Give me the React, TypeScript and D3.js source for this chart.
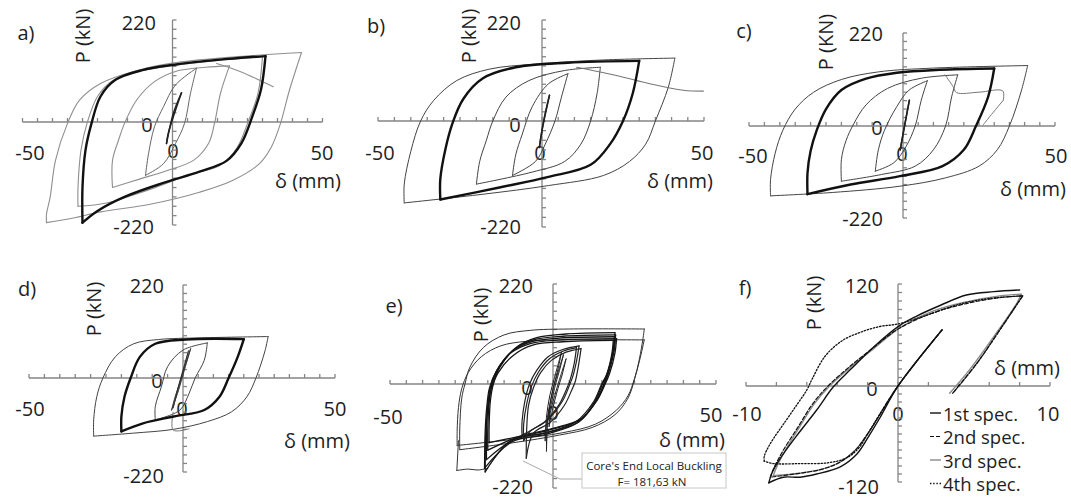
import React from 'react';
import * as d3 from 'd3';

type Pt = [number, number];

// a) hysteresis loops, delta (mm) vs P (kN)
const aOuter: Pt[] = [[43,150],[39,69],[36,-3],[33,-53],[29,-89],[20,-125],[9,-150],[-7,-175],[-24,-192],[-33,-205],[-42,-215],[-42,-197],[-40.8,-161],[-39,-82],[-35,-3],[-31,47],[-24,83],[-13,109],[0,127],[20,140],[43,150]];
const aGray: Pt[] = [[30,141],[28.5,62],[25,-3],[21.5,-55],[16,-92],[5,-114],[-8,-145],[-22,-173],[-31.5,-180],[-31.5,-140],[-30.5,-60],[-28.5,-3],[-25,55],[-20,89],[-10,111],[0,122],[15,133],[30,141]];
const aThick: Pt[] = [[31,142],[29.5,70],[26.5,10],[23,-45],[18,-83],[9,-106],[-3,-130],[-16,-160],[-25,-190],[-30,-215],[-30,-139],[-29,-60],[-27,-3],[-24,55],[-19,91],[-10,112],[0,123],[15,134],[31,142]];
const aMid: Pt[] = [[19,121],[16,62],[14,-3],[12,-46],[7,-82],[-2,-104],[-11,-122],[-20,-140],[-20,-82],[-18,-39],[-16,-3],[-12,47],[-6,87],[1,109],[11,118],[19,121]];
const aSmall: Pt[] = [[8,116],[6,62],[4,-3],[1,-46],[-3,-89],[-9,-114],[-8,-68],[-6,-10],[-3,33],[1,80],[8,116]];
const aTiny: Pt[] = [[3,63],[0.3,19],[-2,-46],[-1.4,-24],[3,63]];
const aDrop: Pt[] = [[14.7,126],[22.5,109],[33.6,76]];

// b)
const bOuter: Pt[] = [[41,137],[39,74],[35,0],[32,-48],[27,-84],[19,-113],[2,-134],[-18,-152],[-42,-170],[-42,-131],[-40,-63],[-37,0],[-33,45],[-26,88],[-16,113],[-2,124],[19,133],[41,137]];
const bThick: Pt[] = [[30,131],[28,60],[25,0],[21,-48],[15,-91],[2,-116],[-13,-138],[-31,-163],[-31,-120],[-29.5,-60],[-27.3,-5],[-24,48],[-18,93],[-8,117],[8,127],[30,131]];
const bMid: Pt[] = [[18,117],[17,60],[15,0],[12,-48],[7,-84],[-3,-106],[-20,-131],[-19,-84],[-17,-41],[-15,0],[-11,52],[-4,88],[7,110],[18,117]];
const bSmall: Pt[] = [[8,103],[6,52],[4,0],[1,-48],[-2,-84],[-9,-113],[-8,-70],[-6,-27],[-3,31],[2,81],[8,103]];
const bTiny: Pt[] = [[2.3,56],[0.5,0],[-0.8,-55],[0,-20],[2.3,56]];
const bDrop: Pt[] = [[10.7,117],[23,99],[33.3,81],[43.6,67],[49.8,65]];

// c)
const cOuter: Pt[] = [[41,143],[39,85],[35,0],[31,-57],[25,-96],[14,-124],[-1,-144],[-23,-159],[-43,-167],[-43,-128],[-41.5,-65],[-39,-10],[-35,40],[-29,80],[-20,110],[-8,128],[10,137],[41,143]];
const cThick: Pt[] = [[30,136],[28,69],[24,0],[20,-57],[13,-96],[-1,-120],[-17,-140],[-31,-163],[-31,-112],[-30,-60],[-28,-10],[-25,40],[-20,85],[-12,112],[-2,126],[12,133],[30,136]];
const cMid: Pt[] = [[18,121],[16,69],[14,0],[10,-57],[4,-96],[-7,-116],[-20,-132],[-20,-80],[-18.5,-35],[-16,5],[-12,50],[-5,89],[6,113],[18,121]];
const cSmall: Pt[] = [[8,107],[6,61],[4,0],[1,-49],[-3,-88],[-9,-108],[-8,-57],[-6,-10],[-2,46],[2,85],[8,107]];
const cTiny: Pt[] = [[2.1,61],[0.5,0],[-0.9,-57],[0,-20],[2.1,61]];
const cDrop: Pt[] = [[13.8,121],[16.5,93],[17.6,79],[25,80],[32.8,83],[33,61],[28.5,22],[26.3,2]];

// d)
const dOuter: Pt[] = [[28,98],[27,65],[24,0],[21,-44],[16,-79],[8,-102],[-3,-120],[-16,-129],[-29,-136],[-29,-98],[-28,-44],[-26,0],[-22,50],[-16,81],[-8,91],[6,95],[28,98]];
const dThick: Pt[] = [[20,92],[18,50],[15,0],[12,-44],[7,-75],[-3,-90],[-13,-106],[-20,-125],[-20,-90],[-19,-44],[-17,0],[-14,50],[-9,81],[1,91],[20,92]];
const dMid: Pt[] = [[8,83],[7,42],[4,0],[2,-36],[-1,-75],[-9,-98],[-9,-67],[-7,-20],[-5,27],[0,66],[8,83]];
const dTiny: Pt[] = [[2.5,69],[0.5,20],[-1.5,-30],[-3.7,-75],[-2.8,-50],[-0.8,-5],[1.2,40],[2.5,69]];
const dTiny2: Pt[] = [[1.8,64],[-0.2,10],[-2.5,-50],[-3.2,-70],[-1.5,-20],[1.8,64]];
const dStep: Pt[] = [[-3.2,-80],[-3.2,-122],[2,-119]];

// e)
const eOuter1: Pt[] = [[28,121],[27.6,100],[26.5,55],[25,10],[23,-30],[19,-65],[12,-92],[2,-108],[-12,-124],[-28.6,-139],[-28.6,-95],[-28,-30],[-27,0],[-25.5,37],[-21.4,80],[-15,108],[-7,118],[5,121],[28,121]];
const eOuter2: Pt[] = [[28,97],[26.5,50],[25,12],[23,-25],[19.5,-55],[13,-85],[3,-103],[-12,-117],[-29.4,-130],[-29.4,-100],[-29,-50],[-28,-10],[-26,25],[-22,60],[-16,84],[-8,94],[5,97],[28,97]];
const eCollapse: Pt[] = [[-29,-120],[-29.5,-183],[-26,-180],[-23,-182],[-20,-178]];
const e2a: Pt[] = [[19,113],[18.7,80],[17,30],[15.6,0],[13.5,-32],[8.5,-75],[-1,-97],[-11,-112],[-19.6,-124],[-19.6,-90],[-19.2,-35],[-18.3,0],[-16.3,37],[-11.2,81],[-5,102],[4,110],[19,113]];
const e2b: Pt[] = [[19.2,108],[18.8,75],[17.2,28],[15.8,0],[13.8,-30],[9,-72],[0,-94],[-10,-110],[-20,-140],[-20,-95],[-19.6,-40],[-18.8,-3],[-16.8,33],[-12,76],[-6,97],[3,105],[19.2,108]];
const e2c: Pt[] = [[18.8,104],[18.4,72],[16.8,26],[15.2,0],[13,-35],[8,-80],[-1.5,-102],[-12,-118],[-20.4,-160],[-20.4,-98],[-20,-45],[-19.2,-6],[-17.2,30],[-12.5,72],[-6.5,93],[2,101],[18.8,104]];
const e2d: Pt[] = [[19.5,100],[19,68],[17.3,22],[15.8,-3],[13.2,-38],[7.5,-82],[-2,-106],[-12.5,-122],[-21,-178],[-20.8,-100],[-20.3,-48],[-19.5,-9],[-17.5,27],[-13,68],[-7,89],[2,97],[19.5,100]];
const e2e: Pt[] = [[18.5,96],[18,64],[16.4,20],[14.8,-2],[12.6,-36],[7,-80],[-2.5,-104],[-13,-120],[-20.8,-186],[-20.6,-104],[-20,-52],[-19,-12],[-16.8,25],[-12,64],[-6,86],[3,93],[18.5,96]];
const e3a: Pt[] = [[8,84],[7.2,50],[6,15],[5.2,0],[3,-35],[-1.5,-75],[-6,-95],[-9.5,-108],[-9.5,-80],[-8.6,-35],[-7.2,0],[-5,30],[-1.5,60],[3,76],[8,84]];
const e3b: Pt[] = [[7.2,80],[6.5,45],[5.2,8],[4.2,-10],[2,-42],[-2.5,-80],[-7,-100],[-9,-120],[-9,-85],[-8,-40],[-6.6,-5],[-4.4,27],[-1,56],[3,72],[7.2,80]];
const e3c: Pt[] = [[8.6,78],[7.8,40],[6.8,5],[5.8,-12],[3.5,-45],[-1,-82],[-6,-104],[-8.2,-157],[-8.1,-100],[-7.5,-45],[-6,-8],[-3.8,25],[-0.5,52],[4,70],[8.6,78]];
const e4a: Pt[] = [[3.2,64],[2,30],[0.8,0],[-0.5,-40],[-1.6,-80],[-2,-142],[-1.8,-85],[-1,-45],[0,-10],[1.5,25],[3.2,64]];
const e4b: Pt[] = [[2.6,70],[1.6,35],[0.4,0],[-1,-45],[-2.2,-95],[-2.4,-120],[-2,-70],[-1,-25],[0.5,15],[2.6,70]];
const e4c: Pt[] = [[4,55],[2.8,20],[1.5,-10],[0,-50],[-1.2,-90],[-0.8,-60],[0.5,-25],[2,10],[4,55]];

// f) single cycle, four specimens
const spec1: Pt[] = [[2.9,66],[0,0],[-1.2,-40],[-1.9,-62],[-2.7,-85],[-3.8,-101],[-5.35,-110],[-6.45,-114],[-7.55,-114],[-8.5,-121],[-8.3,-109],[-7.8,-92],[-6.7,-63],[-5.35,-30],[-4.25,-1],[-3.15,19],[-1.6,46],[0.1,71],[1.2,82],[2.8,95],[4.5,107],[6.3,111],[8,113]];
const spec2: Pt[] = [[2.9,66],[0,0],[-2,-60],[-2.9,-82],[-4,-97],[-5.2,-105],[-6.8,-110],[-8.4,-114],[-8.2,-104],[-7.6,-82],[-6.6,-52],[-5.6,-22],[-4.6,0],[-3.3,21],[-1.7,44],[0,67],[2.3,86],[4.5,97],[6.7,104],[8.2,106],[6.7,66],[5.2,27],[3.6,-9]];
const spec3: Pt[] = [[2.9,66],[0,0],[-2,-60],[-2.8,-80],[-3.8,-95],[-5,-104],[-6.5,-109],[-8.2,-112],[-8,-102],[-7.4,-80],[-6.5,-52],[-5.5,-22],[-4.5,0],[-3.2,21],[-1.6,44],[0.1,68],[2.3,88],[4.5,99],[6.7,106],[8.1,108],[7.8,97],[6.3,58],[4.7,19],[3.4,-9]];
const spec4: Pt[] = [[2.9,66],[0,0],[-2,-60],[-2.6,-78],[-3.4,-90],[-4.6,-96],[-6.5,-97],[-8.2,-97],[-8.8,-94],[-8.8,-88],[-8.4,-72],[-7.4,-44],[-6.6,-22],[-6,-5],[-5.6,10],[-4.8,35],[-3.7,53],[-2.5,63],[-1.2,70],[0,73],[2,84],[4,96],[6,103],[8.2,106],[6.7,66],[5.2,27],[3.6,-9]];

const dispEnds = ['-50', '0', '50'];
const forceEnds = ['220', '0', '-220'];
const dispEndsF = ['-10', '0', '10'];
const forceEndsF = ['120', '0', '-120'];
const legendNames = ['1st spec.', '2nd spec.', '3rd spec.', '4th spec.'];
const noteLines = ["Core's End Local Buckling", 'F= 181,63 kN'];

const FONT = "'Open Sans', 'Noto Sans', sans-serif";
const AX = '#858585';
const FS = 20;

interface Curve { pts: Pt[]; color: string; w: number; dash?: string }
type XY = [number, number];
interface Layout {
  letter: string; yTitle: string;
  xr: number[]; yr: number[]; xMax: number; xStep: number; yMax: number; yStep: number;
  xl: string[]; yl: string[];
  pLetter: XY; pYTitle: XY; pYTop: XY; pYBot: XY; pYZero: XY; pXZero: XY; pXLeft: XY; pXRight: XY; pXTitle: XY;
}

const thin = '#444';
const grey = '#8f8f8f';

const layouts: { L: Layout; curves: Curve[] }[] = [
  {
    L: { letter: 'a)', yTitle: 'P (kN)', xr: [22.5, 172.5, 322.5], yr: [225, 122, 20], xMax: 50, xStep: 5, yMax: 220, yStep: 20, xl: dispEnds, yl: forceEnds,
      pLetter: [26, 32], pYTitle: [82, 36], pYTop: [156, 22], pYBot: [154, 226], pYZero: [147, 124], pXZero: [173, 150], pXLeft: [30, 152], pXRight: [322, 152], pXTitle: [308, 180] },
    curves: [
      { pts: aOuter, color: grey, w: 1.1 }, { pts: aGray, color: grey, w: 1.1 }, { pts: aMid, color: grey, w: 1.1 },
      { pts: aSmall, color: '#666', w: 1 }, { pts: aDrop, color: grey, w: 1.1 },
      { pts: aThick, color: '#111', w: 2.4 }, { pts: aTiny, color: '#222', w: 1.5 },
    ],
  },
  {
    L: { letter: 'b)', yTitle: 'P (kN)', xr: [378, 542, 704], yr: [227, 121, 20], xMax: 50, xStep: 5, yMax: 220, yStep: 20, xl: dispEnds, yl: forceEnds,
      pLetter: [376, 25], pYTitle: [468, 36], pYTop: [521, 22], pYBot: [521, 226], pYZero: [515, 124], pXZero: [540, 152], pXLeft: [380, 152], pXRight: [702, 152], pXTitle: [680, 180] },
    curves: [
      { pts: bOuter, color: thin, w: 1 }, { pts: bMid, color: thin, w: 1 }, { pts: bSmall, color: thin, w: 1 },
      { pts: bDrop, color: '#777', w: 1.1 }, { pts: bThick, color: '#111', w: 2.4 }, { pts: bTiny, color: '#222', w: 1.5 },
    ],
  },
  {
    L: { letter: 'c)', yTitle: 'P (KN)', xr: [749, 903, 1055], yr: [218, 126, 33], xMax: 50, xStep: 5, yMax: 220, yStep: 20, xl: dispEnds, yl: forceEnds,
      pLetter: [744, 30], pYTitle: [825, 42], pYTop: [883, 33], pYBot: [883, 218], pYZero: [877, 127], pXZero: [902, 153], pXLeft: [753, 155], pXRight: [1056, 155], pXTitle: [1033, 188] },
    curves: [
      { pts: cOuter, color: thin, w: 1 }, { pts: cMid, color: thin, w: 1 }, { pts: cSmall, color: thin, w: 1 },
      { pts: cDrop, color: '#777', w: 1 }, { pts: cThick, color: '#111', w: 2.4 }, { pts: cTiny, color: '#222', w: 1.5 },
    ],
  },
  {
    L: { letter: 'd)', yTitle: 'P (kN)', xr: [29, 183, 335], yr: [472, 378, 285], xMax: 50, xStep: 5, yMax: 220, yStep: 20, xl: dispEnds, yl: forceEnds,
      pLetter: [27, 288], pYTitle: [93, 309], pYTop: [164, 285], pYBot: [164, 475], pYZero: [157, 380], pXZero: [182, 408], pXLeft: [30, 408], pXRight: [335, 408], pXTitle: [317, 440] },
    curves: [
      { pts: dOuter, color: thin, w: 1 }, { pts: dMid, color: thin, w: 1 }, { pts: dStep, color: '#777', w: 1 },
      { pts: dThick, color: '#111', w: 2.4 }, { pts: dTiny, color: '#333', w: 1 }, { pts: dTiny2, color: '#333', w: 1 },
    ],
  },
  {
    L: { letter: 'e)', yTitle: 'P (kN)', xr: [390, 553, 716], yr: [488, 384, 284], xMax: 50, xStep: 5, yMax: 220, yStep: 20, xl: dispEnds, yl: forceEnds,
      pLetter: [394, 305], pYTitle: [480, 315], pYTop: [533, 285], pYBot: [533, 486], pYZero: [527, 387], pXZero: [553, 412], pXLeft: [388, 416], pXRight: [711, 414], pXTitle: [692, 439] },
    curves: [
      { pts: eOuter1, color: '#333', w: 1 }, { pts: eOuter2, color: '#333', w: 1 }, { pts: eCollapse, color: '#333', w: 1 },
      { pts: e2a, color: '#151515', w: 1.3 }, { pts: e2b, color: '#151515', w: 1.3 }, { pts: e2c, color: '#151515', w: 1.3 },
      { pts: e2d, color: '#151515', w: 1.3 }, { pts: e2e, color: '#151515', w: 1.3 },
      { pts: e3a, color: '#222', w: 1.2 }, { pts: e3b, color: '#222', w: 1.2 }, { pts: e3c, color: '#222', w: 1.2 },
      { pts: e4a, color: '#222', w: 1 }, { pts: e4b, color: '#222', w: 1 }, { pts: e4c, color: '#222', w: 1 },
    ],
  },
  {
    L: { letter: 'f)', yTitle: 'P (kN)', xr: [746, 898, 1050], yr: [482, 386, 284], xMax: 10, xStep: 2, yMax: 120, yStep: 10, xl: dispEndsF, yl: forceEndsF,
      pLetter: [745, 287], pYTitle: [813, 303], pYTop: [879, 285], pYBot: [879, 486], pYZero: [872, 388], pXZero: [898, 413], pXLeft: [747, 413], pXRight: [1048, 413], pXTitle: [1027, 367] },
    curves: [
      { pts: spec3, color: '#8a8a8a', w: 1.4 }, { pts: spec2, color: '#111', w: 1.2, dash: '4,2' },
      { pts: spec4, color: '#111', w: 1.3, dash: '1.4,1.8' }, { pts: spec1, color: '#111', w: 1.4 },
    ],
  },
];

const legendStyle: Curve[] = [
  { pts: spec1, color: '#111', w: 1.4 },
  { pts: spec2, color: '#111', w: 1.2, dash: '4,2' },
  { pts: spec3, color: '#8a8a8a', w: 1.4 },
  { pts: spec4, color: '#111', w: 1.3, dash: '1.4,1.8' },
];

// split a loop at its extreme displacements so the peaks stay sharp
function pieces(pts: Pt[]): Pt[][] {
  let iMin = 0, iMax = 0;
  pts.forEach((p, i) => {
    if (p[0] < pts[iMin][0]) iMin = i;
    if (p[0] > pts[iMax][0]) iMax = i;
  });
  const cuts = Array.from(new Set([0, iMin, iMax, pts.length - 1])).sort((a, b) => a - b);
  const out: Pt[][] = [];
  for (let k = 0; k < cuts.length - 1; k++) out.push(pts.slice(cuts[k], cuts[k + 1] + 1));
  return out.filter(s => s.length > 1);
}

function Txt({ p, t, anchor = 'middle', size = FS }: { p: XY; t: string; anchor?: string; size?: number }) {
  return (
    <text x={p[0]} y={p[1]} textAnchor={anchor as any} dominantBaseline="central" fontSize={size} fill="#1e1e1e" fontFamily={FONT}>{t}</text>
  );
}

function Panel({ L, curves }: { L: Layout; curves: Curve[] }) {
  const x = d3.scaleLinear().domain([-L.xMax, 0, L.xMax]).range(L.xr);
  const y = d3.scaleLinear().domain([-L.yMax, 0, L.yMax]).range(L.yr);
  const line = d3.line<Pt>().x(d => x(d[0])).y(d => y(d[1])).curve(d3.curveCatmullRom.alpha(0.5));
  const xt = d3.range(-L.xMax, L.xMax + 1e-6, L.xStep);
  const yt = d3.range(-L.yMax, L.yMax + 1e-6, L.yStep);
  const x0 = x(0), y0 = y(0);
  return (
    <g>
      <Txt p={L.pLetter} t={L.letter} />
      <text transform={`translate(${L.pYTitle[0]},${L.pYTitle[1]}) rotate(-90)`} textAnchor="middle" dominantBaseline="central" fontSize={FS} fill="#1e1e1e" fontFamily={FONT}>{L.yTitle}</text>
      <Txt p={L.pYTop} t={L.yl[0]} anchor="end" />
      <Txt p={L.pYBot} t={L.yl[2]} anchor="end" />
      <Txt p={L.pYZero} t={L.yl[1]} />
      <Txt p={L.pXZero} t={L.xl[1]} />
      <Txt p={L.pXLeft} t={L.xl[0]} />
      <Txt p={L.pXRight} t={L.xl[2]} />
      <Txt p={L.pXTitle} t="δ (mm)" />
      <g stroke={AX} strokeWidth={1.3} fill="none">
        <line x1={x(-L.xMax)} x2={x(L.xMax)} y1={y0} y2={y0} />
        <line x1={x0} x2={x0} y1={y(-L.yMax)} y2={y(L.yMax)} />
        {xt.map(v => <line key={'x' + v} x1={x(v)} x2={x(v)} y1={y0} y2={y0 - 4} />)}
        {yt.map(v => <line key={'y' + v} x1={x0} x2={x0 + 4} y1={y(v)} y2={y(v)} />)}
      </g>
      <g fill="none" strokeLinejoin="round" strokeLinecap="round">
        {curves.map((c, i) => pieces(c.pts).map((s, j) => (
          <path key={i + '-' + j} d={line(s) || ''} stroke={c.color} strokeWidth={c.w} strokeDasharray={c.dash} />
        )))}
      </g>
    </g>
  );
}

export default function App() {
  return (
    <svg width={1071} height={498} style={{ position: 'absolute', left: 0, top: 0, background: '#fff' }}>
      <rect width={1071} height={498} fill="#fff" />
      {layouts.map((p, i) => <Panel key={i} L={p.L} curves={p.curves} />)}
      {/* annotation in e) */}
      <polyline points="523,461 560,479 582,479" fill="none" stroke="#aaa" strokeWidth={1} />
      <rect x={582} y={453} width={144} height={35} fill="#fff" stroke="#c8c8c8" strokeWidth={1} />
      <text x={654} y={465} textAnchor="middle" dominantBaseline="central" fontSize={11.5} fill="#222" fontFamily={FONT}>{noteLines[0]}</text>
      <text x={652} y={481} textAnchor="middle" dominantBaseline="central" fontSize={11.5} fill="#222" fontFamily={FONT}>{noteLines[1]}</text>
      {/* legend in f) */}
      {legendNames.map((n, i) => {
        const yy = 413 + i * 23.5;
        const s = legendStyle[i];
        return (
          <g key={n}>
            <line x1={930} x2={941} y1={yy} y2={yy} stroke={s.color} strokeWidth={s.w} strokeDasharray={s.dash} />
            <text x={943} y={yy} dominantBaseline="central" fontSize={18.5} fill="#1e1e1e" fontFamily={FONT}>{n}</text>
          </g>
        );
      })}
    </svg>
  );
}
